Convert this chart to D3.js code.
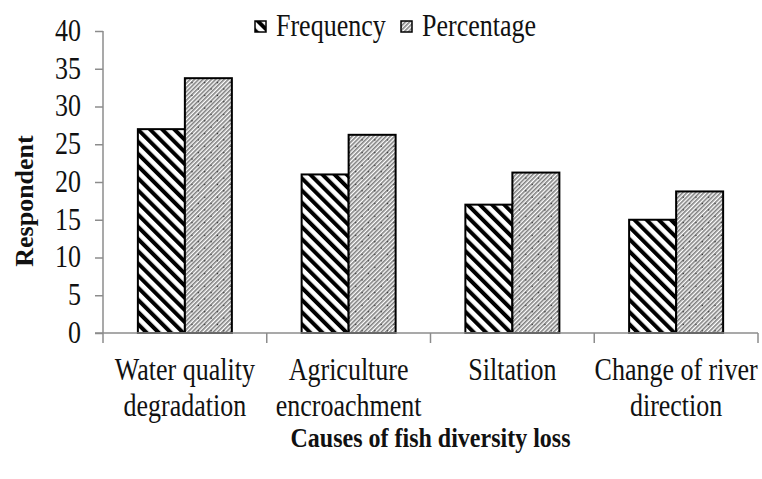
<!DOCTYPE html>
<html lang="en">
<head>
<meta charset="UTF-8" />
<title>Causes of fish diversity loss</title>
<script src="https://d3js.org/d3.v7.min.js"></script>
<style>
  body {
    margin: 0;
    background: #fff;
  }
  svg {
    display: block;
  }
  svg text {
    font-family: "Liberation Serif", "DejaVu Serif", serif;
  }
  .axis path, .axis line {
    stroke: #8c8c8c;
    stroke-width: 1.5px;
  }
  .axis text {
    font-size: 26px;
    fill: #111;
  }
</style>
</head>
<body>
<svg width="762" height="479"></svg>
<script>
  const width = 762, height = 479;
  const serif = "'Liberation Serif', 'DejaVu Serif', serif";
  const stretch = 1.2; // the original type is drawn tall and narrow

  // data
  const categories = [
    ["Water quality", "degradation"],
    ["Agriculture", "encroachment"],
    ["Siltation"],
    ["Change of river", "direction"]
  ];
  const seriesNames = ["Frequency", "Percentage"];
  const frequency = [27, 21, 17, 15];
  const percentage = [33.75, 26.25, 21.25, 18.75];
  const yTicks = [0, 5, 10, 15, 20, 25, 30, 35, 40];

  const margin = {top: 31, right: 4, bottom: 146, left: 103};
  const svg = d3.select("svg");

  // hatch patterns
  const defs = svg.append("defs");
  const pf = defs.append("pattern")
    .attr("id", "hatch-freq")
    .attr("patternUnits", "userSpaceOnUse")
    .attr("width", 8.6).attr("height", 8.6)
    .attr("patternTransform", "rotate(-45)");
  pf.append("rect").attr("width", 8.6).attr("height", 8.6).attr("fill", "#fff");
  pf.append("rect").attr("width", 4).attr("height", 8.6).attr("fill", "#000");

  const pp = defs.append("pattern")
    .attr("id", "hatch-pct")
    .attr("patternUnits", "userSpaceOnUse")
    .attr("width", 9).attr("height", 9)
    .attr("patternTransform", "rotate(45)");
  pp.append("rect").attr("width", 9).attr("height", 9).attr("fill", "#fff");
  [0, 3, 6].forEach(x => {
    pp.append("rect").attr("x", x).attr("width", 1.6).attr("height", 9).attr("fill", "#808080");
  });
  pp.append("circle").attr("cx", 4.5).attr("cy", 4.5).attr("r", 0.7).attr("fill", "#222");

  const fills = {Frequency: "url(#hatch-freq)", Percentage: "url(#hatch-pct)"};

  const x0 = d3.scaleBand()
    .domain(d3.range(categories.length))
    .range([margin.left, width - margin.right]);

  const x1 = d3.scaleBand()
    .domain(seriesNames)
    .range([0, x0.bandwidth()])
    .paddingOuter(0.742);

  const y = d3.scaleLinear()
    .domain([0, 40])
    .range([height - margin.bottom, margin.top]);

  // y axis
  const yAxis = svg.append("g")
    .attr("class", "axis")
    .attr("transform", `translate(${margin.left},0)`)
    .call(d3.axisLeft(y).tickValues(yTicks).tickSize(8).tickSizeOuter(0).tickPadding(14));
  yAxis.attr("font-family", serif).attr("font-size", 26);
  yAxis.select(".domain").attr("d", `M0,${y(0)}V${y(40)}`);
  yAxis.selectAll(".tick text")
    .attr("dy", "0.3em")
    .attr("transform", `scale(1,${stretch})`);

  // bars
  const rows = categories.map((c, i) => ({i, values: [frequency[i], percentage[i]]}));
  const groups = svg.append("g")
    .selectAll("g")
    .data(rows)
    .join("g")
    .attr("transform", d => `translate(${x0(d.i)},0)`);

  groups.selectAll("rect")
    .data(d => d.values.map((v, k) => ({key: seriesNames[k], value: v})))
    .join("rect")
    .attr("x", d => x1(d.key))
    .attr("y", d => y(d.value))
    .attr("width", x1.bandwidth())
    .attr("height", d => y(0) - y(d.value))
    .attr("fill", d => fills[d.key])
    .attr("stroke", "#000")
    .attr("stroke-width", 2);

  // x axis
  const xg = svg.append("g").attr("class", "axis");
  xg.append("path")
    .attr("d", `M${margin.left - 8},${y(0)}H${width - margin.right}`)
    .attr("fill", "none");
  const tickXs = d3.range(categories.length).map(i => x0(i)).concat([x0(categories.length - 1) + x0.bandwidth()]);
  xg.selectAll("line.tick")
    .data(tickXs)
    .join("line")
    .attr("x1", d => d).attr("x2", d => d)
    .attr("y1", y(0)).attr("y2", y(0) + 10);

  const labels = svg.append("g")
    .selectAll("text")
    .data(categories)
    .join("text")
    .attr("text-anchor", "middle")
    .attr("font-family", serif)
    .attr("font-size", 26)
    .attr("fill", "#111")
    .attr("transform", (d, i) => `translate(${x0(i) + x0.bandwidth() / 2},380) scale(1,${stretch})`);
  labels.selectAll("tspan")
    .data(d => d)
    .join("tspan")
    .attr("x", 0)
    .attr("y", (d, k) => k * 36 / stretch)
    .text(d => d);

  // axis titles
  svg.append("text")
    .attr("transform", `translate(${(margin.left + width - margin.right) / 2},447) scale(1,1.15)`)
    .attr("text-anchor", "middle")
    .attr("font-family", serif)
    .attr("font-size", 24)
    .attr("font-weight", "bold")
    .attr("fill", "#111")
    .text("Causes of fish diversity loss");

  svg.append("text")
    .attr("transform", "translate(33,201) rotate(-90)")
    .attr("text-anchor", "middle")
    .attr("font-family", serif)
    .attr("font-size", 26)
    .attr("font-weight", "bold")
    .attr("fill", "#111")
    .text("Respondent");

  // legend
  const legendX = [255, 401];
  const legend = svg.append("g")
    .selectAll("g")
    .data(seriesNames)
    .join("g")
    .attr("transform", (d, i) => `translate(${legendX[i]},21)`);
  legend.append("rect")
    .attr("width", 11).attr("height", 11)
    .attr("fill", d => fills[d])
    .attr("stroke", "#000")
    .attr("stroke-width", 1.5);
  legend.append("text")
    .attr("transform", `translate(21,15) scale(1,${stretch})`)
    .attr("font-family", serif)
    .attr("font-size", 26)
    .attr("fill", "#111")
    .text(d => d);
</script>
</body>
</html>
